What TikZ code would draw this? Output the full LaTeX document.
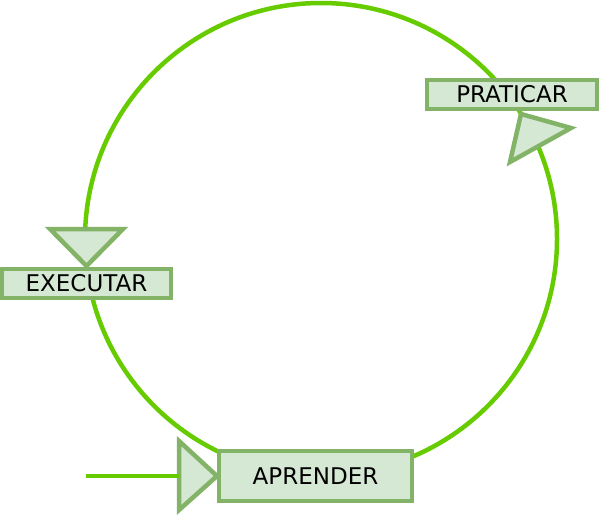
\documentclass[tikz,border=0pt]{standalone}
\usepackage{fontspec}
\setmainfont{DejaVu Sans}
\definecolor{ring}{HTML}{66CC00}
\definecolor{boxfill}{HTML}{D5E8D4}
\definecolor{boxline}{HTML}{82B366}
\begin{document}
\begin{tikzpicture}[x=1pt,y=-1pt,
  lbl/.style={draw=boxline,fill=boxfill,line width=4.5pt,inner sep=0pt,font=\fontsize{23}{26}\selectfont},
  tri/.style={draw=boxline,fill=boxfill,line width=4.5pt,line join=miter},
  ringline/.style={draw=ring,line width=4.5pt}]
\useasboundingbox (0,0) rectangle (599,514);
\draw[ringline] (321,239) circle[radius=236];
% boxes
\node[lbl,minimum width=170pt,minimum height=29pt] (prat) at (512,94.5) {PRATICAR};
\node[lbl,minimum width=169pt,minimum height=29pt] (exec) at (86.5,283.5) {EXECUTAR};
\node[lbl,minimum width=193pt,minimum height=50pt] (apre) at (315.5,476) {APRENDER};
% triangles
\draw[tri] (521,114) -- (571,128) -- (510,162) -- cycle;
\draw[tri] (50,229) -- (123,229) -- (86.5,266) -- cycle;
\draw[tri] (179,441) -- (217,476) -- (179,510) -- cycle;
\coordinate (start) at (86,476);
\coordinate (tin) at (179,476);
\draw[ringline] (start) -- (tin);
\end{tikzpicture}
\end{document}
